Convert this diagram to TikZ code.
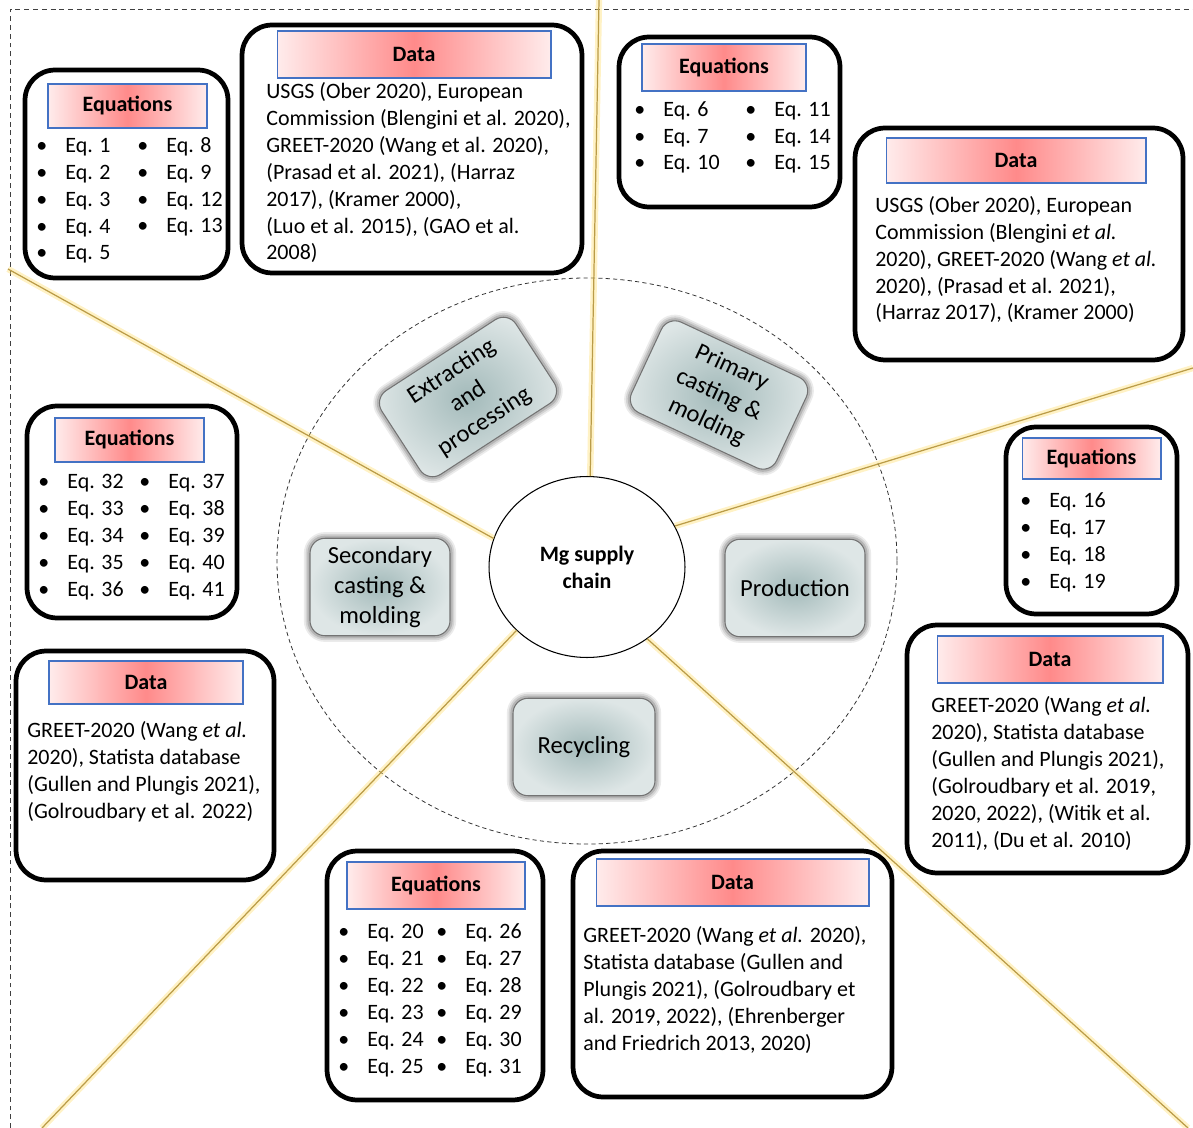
\documentclass[tikz,border=0pt]{standalone}
\usepackage{fontspec}
\setmainfont{Carlito}
\usetikzlibrary{shapes.geometric}
\definecolor{hdrline}{RGB}{68,114,196}
\definecolor{hdrmid}{RGB}{255,138,138}
\definecolor{hdrside}{RGB}{255,236,236}
\definecolor{stagein}{RGB}{163,186,186}
\definecolor{stageout}{RGB}{222,230,230}
\definecolor{spokegold}{RGB}{186,156,72}
\definecolor{spokeglow}{RGB}{255,222,110}
\newcommand{\bul}{\makebox[0.58cm][l]{\textbullet}}
\tikzset{
  frame/.style={draw=black!75, line width=.5pt, dash pattern=on 2.8pt off 2.2pt},
  ring/.style={draw=black!80, line width=.45pt, dash pattern=on 2.4pt off 1.8pt},
  glowline/.style={draw=spokeglow, line width=3.6pt, opacity=.4},
  spokeline/.style={draw=spokegold, line width=.7pt},
  hubnode/.style={ellipse, draw, line width=.6pt, fill=white, minimum width=3.92cm,
    minimum height=3.62cm, align=center, font=\bfseries\fontsize{12.5}{15.3}\selectfont},
  softglow/.style={preaction={draw=black, line width=7pt, opacity=.08},
    preaction={draw=black, line width=5pt, opacity=.1},
    preaction={draw=black, line width=3pt, opacity=.14}},
  stage/.style={rectangle, rounded corners=.3cm, draw=black!55, line width=.6pt,
    inner color=stagein, outer color=stageout, align=center, inner sep=0pt,
    font=\fontsize{14}{17}\selectfont, softglow},
  outerbox/.style={rectangle, draw, line width=2.7pt, rounded corners=.6cm, fill=white, inner sep=0pt},
  header/.style={rectangle, draw=hdrline, line width=.6pt, left color=hdrside, right color=hdrside,
    middle color=hdrmid, inner sep=0pt, font=\bfseries\fontsize{12.5}{15}\selectfont},
  bodytext/.style={anchor=base west, align=left, inner sep=0pt, font=\fontsize{12.5}{15.3}\selectfont},
}

\begin{document}
\begin{tikzpicture}[x=0.02cm,y=-0.02cm]
\useasboundingbox (0,0) rectangle (1193,1128);
\draw[frame] (10,1128) -- (10,9) -- (1193,9);
\draw[ring] (587,561) ellipse [x radius=310, y radius=283];

\node[hubnode] (hub) at (587,567) {Mg supply\\chain};
\coordinate (sN) at (599,0);
\coordinate (sNE) at (1193,368);
\coordinate (sSE) at (1188,1128);
\coordinate (sSW) at (42,1128);
\coordinate (sNW) at (8,269);
\foreach \a/\e in {88/sN,25/sNE,-50/sSE,222/sSW,163/sNW}{
  \draw[glowline] (hub.\a) -- (\e);
  \draw[spokeline] (hub.\a) -- (\e);
}

\node[stage, minimum width=3.2cm, minimum height=2cm, rotate=33] (extract) at (468,397) {Extracting\\and\\processing};
\node[stage, minimum width=3.2cm, minimum height=2cm, rotate=-25] (primary) at (719,395) {Primary\\casting \&\\molding};
\node[stage, minimum width=2.8cm, minimum height=1.95cm] (secondary) at (380,587) {Secondary\\casting \&\\molding};
\node[stage, minimum width=2.8cm, minimum height=1.95cm] (production) at (795,588) {Production};
\node[stage, minimum width=2.84cm, minimum height=1.95cm] (recycling) at (584,747) {Recycling};

\node[outerbox, minimum width=4.06cm, minimum height=4.16cm] (eqA) at (126.5,174) {};
\node[header, minimum width=3.18cm, minimum height=.88cm] (eqAh) at (127.5,106) {Equations};
\node[bodytext] (eqA1) at (36,260) {\bul Eq. 1\\\bul Eq. 2\\\bul Eq. 3\\\bul Eq. 4\\\bul Eq. 5};
\node[bodytext] (eqA2) at (137,233) {\bul Eq. 8\\\bul Eq. 9\\\bul Eq. 12\\\bul Eq. 13};

\node[outerbox, minimum width=6.8cm, minimum height=4.96cm] (dataA) at (412,149) {};
\node[header, minimum width=5.48cm, minimum height=.94cm] (dataAh) at (414,54.5) {Data};
\node[bodytext] (dataAt) at (266,260) {USGS (Ober 2020), European\\
Commission (Blengini et al. 2020),\\
GREET-2020 (Wang et al. 2020),\\
(Prasad et al. 2021), (Harraz\\
2017), (Kramer 2000),\\
(Luo et al. 2015), (GAO et al.\\
2008)};

\node[outerbox, minimum width=4.42cm, minimum height=3.4cm] (eqB) at (729.5,122) {};
\node[header, minimum width=3.28cm, minimum height=.94cm] (eqBh) at (724,67.5) {Equations};
\node[bodytext] (eqB1) at (634,170) {\bul Eq. 6\\\bul Eq. 7\\\bul Eq. 10};
\node[bodytext] (eqB2) at (745,170) {\bul Eq. 11\\\bul Eq. 14\\\bul Eq. 15};

\node[outerbox, minimum width=6.56cm, minimum height=4.64cm] (dataB) at (1019,244) {};
\node[header, minimum width=5.2cm, minimum height=.9cm] (dataBh) at (1016,160.5) {Data};
\node[bodytext] (dataBt) at (875,320) {USGS (Ober 2020), European\\
Commission (Blengini \textit{et al.}\\
2020), GREET-2020 (Wang \textit{et al.}\\
2020), (Prasad et al. 2021),\\
(Harraz 2017), (Kramer 2000)};

\node[outerbox, minimum width=4.2cm, minimum height=4.24cm] (eqC) at (132,512) {};
\node[header, minimum width=2.98cm, minimum height=.88cm] (eqCh) at (129.5,440) {Equations};
\node[bodytext] (eqC1) at (38,596) {\bul Eq. 32\\\bul Eq. 33\\\bul Eq. 34\\\bul Eq. 35\\\bul Eq. 36};
\node[bodytext] (eqC2) at (139,596) {\bul Eq. 37\\\bul Eq. 38\\\bul Eq. 39\\\bul Eq. 40\\\bul Eq. 41};

\node[outerbox, minimum width=5.16cm, minimum height=4.58cm] (dataC) at (145,765.5) {};
\node[header, minimum width=3.88cm, minimum height=.86cm] (dataCh) at (146,682.5) {Data};
\node[bodytext] (dataCt) at (27,818) {GREET-2020 (Wang \textit{et al.}\\
2020), Statista database\\
(Gullen and Plungis 2021),\\
(Golroudbary et al. 2022)};

\node[outerbox, minimum width=3.42cm, minimum height=3.74cm] (eqD) at (1091.5,520.5) {};
\node[header, minimum width=2.78cm, minimum height=.82cm] (eqDh) at (1091.5,458.5) {Equations};
\node[bodytext] (eqD1) at (1020,588) {\bul Eq. 16\\\bul Eq. 17\\\bul Eq. 18\\\bul Eq. 19};

\node[outerbox, minimum width=5.62cm, minimum height=4.96cm] (dataD) at (1047.5,749) {};
\node[header, minimum width=4.52cm, minimum height=.94cm] (dataDh) at (1050,659.5) {Data};
\node[bodytext] (dataDt) at (931,847) {GREET-2020 (Wang \textit{et al.}\\
2020), Statista database\\
(Gullen and Plungis 2021),\\
(Golroudbary et al. 2019,\\
2020, 2022), (Witik et al.\\
2011), (Du et al. 2010)};

\node[outerbox, minimum width=4.32cm, minimum height=4.98cm] (eqE) at (435,975.5) {};
\node[header, minimum width=3.56cm, minimum height=.94cm] (eqEh) at (436,885.5) {Equations};
\node[bodytext] (eqE1) at (338,1073) {\bul Eq. 20\\\bul Eq. 21\\\bul Eq. 22\\\bul Eq. 23\\\bul Eq. 24\\\bul Eq. 25};
\node[bodytext] (eqE2) at (436,1073) {\bul Eq. 26\\\bul Eq. 27\\\bul Eq. 28\\\bul Eq. 29\\\bul Eq. 30\\\bul Eq. 31};

\node[outerbox, minimum width=6.38cm, minimum height=4.92cm] (dataE) at (732.5,974) {};
\node[header, minimum width=5.46cm, minimum height=.94cm] (dataEh) at (732.5,882.5) {Data};
\node[bodytext] (dataEt) at (583,1050) {GREET-2020 (Wang \textit{et al.} 2020),\\
Statista database (Gullen and\\
Plungis 2021), (Golroudbary et\\
al. 2019, 2022), (Ehrenberger\\
and Friedrich 2013, 2020)};
\end{tikzpicture}
\end{document}
